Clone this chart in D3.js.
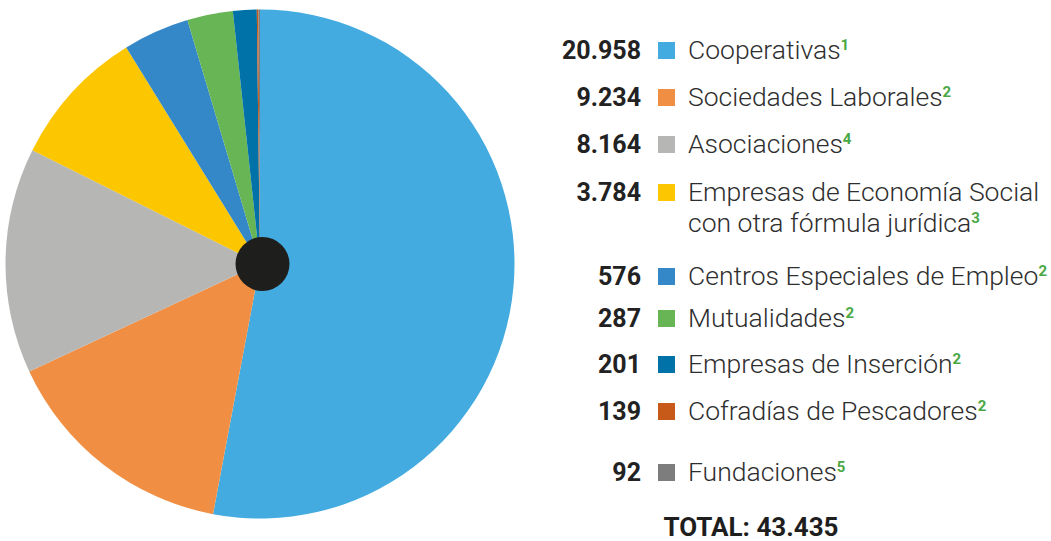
<!DOCTYPE html>
<html>
<head>
<meta charset="utf-8">
<script src="https://cdn.jsdelivr.net/npm/d3@7"></script>
<style>
  body { margin: 0; background: #fff; }
  text { font-family: Roboto, "Noto Sans", sans-serif; }
</style>
</head>
<body>
<div id="vis-container"></div>
<script>
// data
const categories = ['Cooperativas', 'Sociedades Laborales', 'Asociaciones',
  'Empresas de Economía Social|con otra fórmula jurídica', 'Centros Especiales de Empleo',
  'Mutualidades', 'Empresas de Inserción', 'Cofradías de Pescadores', 'Fundaciones'];
const counts = [20958, 9234, 8164, 3784, 576, 287, 201, 139, 92];
const notes = ['1', '2', '4', '3', '2', '2', '2', '2', '5'];
// slice shares as drawn in the pie (%)
const pieShare = [52.9, 15.1, 14.3, 8.8, 4.2, 2.9, 1.5, 0.1, 0.1];
const colors = ['#43abdf', '#f08f43', '#b6b6b5', '#fcc600', '#3588c8',
  '#68b555', '#0072a8', '#c85a19', '#7d7d7d'];
const totalLabel = 'TOTAL: 43.435';

const width = 1051;
const height = 541;

const svg = d3.select("#vis-container")
  .append("svg")
    .attr("width", width)
    .attr("height", height);

// pie
const cx = 260, cy = 264, radius = 254.5;

const pie = d3.pie().sort(null).value(d => d);
const arc = d3.arc().innerRadius(0).outerRadius(radius);

const pieG = svg.append("g")
  .attr("transform", `translate(${cx}, ${cy})`);

pieG.selectAll("path")
  .data(pie(pieShare))
  .enter()
  .append("path")
    .attr("d", arc)
    .attr("fill", (d, i) => colors[i]);

svg.append("circle")
  .attr("cx", cx + 2.5)
  .attr("cy", cy)
  .attr("r", 27)
  .attr("fill", "#1e1e1c");

// legend
const fmt = d3.formatLocale({ decimal: ",", thousands: ".", grouping: [3] }).format(",d");
const rowBaseline = [59, 106, 153, 201, 285, 327, 373, 420, 481];
const numRight = 641, boxX = 658, labelX = 688;

const rows = svg.selectAll("g.row")
  .data(categories)
  .enter()
  .append("g")
    .attr("class", "row")
    .attr("transform", (d, i) => `translate(0, ${rowBaseline[i]})`);

rows.append("text")
  .attr("x", numRight)
  .attr("text-anchor", "end")
  .attr("font-size", 25)
  .attr("font-weight", 700)
  .attr("fill", "#222")
  .text((d, i) => fmt(counts[i]));

rows.append("rect")
  .attr("x", boxX)
  .attr("y", -17)
  .attr("width", 17)
  .attr("height", 17)
  .attr("fill", (d, i) => colors[i]);

rows.each(function(d, i) {
  const lines = d.split('|');
  const t = d3.select(this).append("text")
    .attr("x", labelX)
    .attr("font-size", 26.5)
    .attr("font-weight", 300)
    .attr("fill", "#2e2e2e");
  lines.forEach((line, k) => {
    t.append("tspan")
      .attr("x", labelX)
      .attr("dy", k === 0 ? 0 : 30.5)
      .text(line);
  });
  t.append("tspan")
    .attr("font-size", 15)
    .attr("font-weight", 700)
    .attr("fill", "#4aa844")
    .attr("dy", -9)
    .text(notes[i]);
});

svg.append("text")
  .attr("x", 751)
  .attr("y", 536)
  .attr("text-anchor", "middle")
  .attr("font-size", 26)
  .attr("font-weight", 700)
  .attr("fill", "#1e1e1e")
  .text(totalLabel);
</script>
</body>
</html>
